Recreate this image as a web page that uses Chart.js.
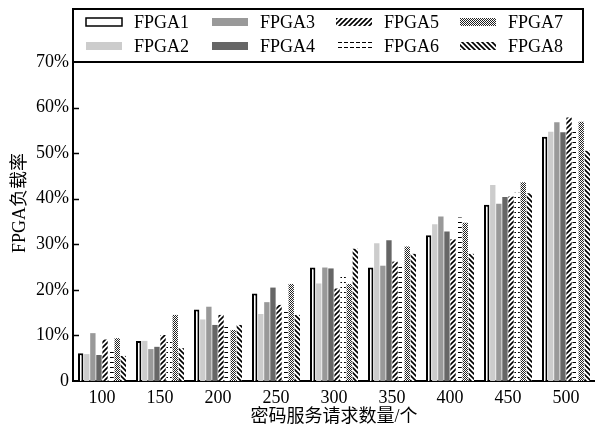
<!DOCTYPE html>
<html>
<head>
<meta charset="utf-8">
<script src="https://cdn.jsdelivr.net/npm/chart.js@4"></script>
<style>
  body { margin: 0; background: #fff; }
  canvas { display: block; }
</style>
</head>
<body>
<canvas id="chart" width="595" height="430"></canvas>
<script>
const categories = ['100', '150', '200', '250', '300', '350', '400', '450', '500'];
const seriesNames = ['FPGA1', 'FPGA2', 'FPGA3', 'FPGA4', 'FPGA5', 'FPGA6', 'FPGA7', 'FPGA8'];
const fpga1 = [6.1, 8.8, 15.7, 19.2, 24.9, 24.9, 32.0, 38.7, 53.6];
const fpga2 = [5.9, 8.8, 13.5, 14.7, 21.4, 30.2, 34.4, 43.0, 54.7];
const fpga3 = [10.5, 7.0, 16.3, 17.3, 24.9, 25.3, 36.1, 38.9, 56.8];
const fpga4 = [5.7, 7.5, 12.3, 20.5, 24.7, 30.9, 32.8, 40.4, 54.6];
const fpga5 = [9.1, 10.1, 14.5, 16.7, 20.3, 26.2, 31.1, 40.5, 57.8];
const fpga6 = [6.5, 9.0, 12.7, 15.9, 22.9, 25.2, 35.9, 41.3, 54.7];
const fpga7 = [9.4, 14.5, 11.2, 21.3, 21.3, 29.5, 34.7, 43.6, 56.9];
const fpga8 = [5.5, 7.2, 12.3, 14.5, 29.0, 27.9, 27.9, 41.2, 50.5];
const yTickLabels = ['0', '10%', '20%', '30%', '40%', '50%', '60%', '70%'];

const serif = '"Liberation Serif", "Times New Roman", "Noto Sans CJK SC", serif';

// small canvas tiles used as bar fills
function tile(w, h, paint) {
    const c = document.createElement('canvas');
    c.width = w; c.height = h;
    const g = c.getContext('2d');
    g.fillStyle = '#fff';
    g.fillRect(0, 0, w, h);
    paint(g);
    return c.getContext('2d').createPattern(c, 'repeat');
}

const fwdHatch = tile(5, 5, g => {
    g.strokeStyle = '#000'; g.lineWidth = 1.6;
    g.beginPath();
    g.moveTo(-1, 6); g.lineTo(6, -1);
    g.moveTo(-2, 2); g.lineTo(2, -2);
    g.moveTo(3, 7); g.lineTo(7, 3);
    g.stroke();
});
const backHatch = tile(5, 5, g => {
    g.strokeStyle = '#000'; g.lineWidth = 1.6;
    g.beginPath();
    g.moveTo(-1, -1); g.lineTo(6, 6);
    g.moveTo(3, -2); g.lineTo(7, 2);
    g.moveTo(-2, 3); g.lineTo(2, 7);
    g.stroke();
});
const dashes = tile(6, 5, g => {
    g.strokeStyle = '#000'; g.lineWidth = 1;
    g.beginPath();
    g.moveTo(2, 2.5); g.lineTo(6, 2.5);
    g.stroke();
});
const checker = tile(2, 2, g => {
    g.fillStyle = '#222';
    g.fillRect(0, 0, 1, 1);
    g.fillRect(1, 1, 1, 1);
});

const fills = ['#ffffff', '#cccccc', '#999999', '#666666', fwdHatch, dashes, checker, backHatch];
const values = [fpga1, fpga2, fpga3, fpga4, fpga5, fpga6, fpga7, fpga8];

const datasets = seriesNames.map((name, i) => ({
    label: name,
    data: values[i],
    backgroundColor: fills[i],
    borderColor: '#000',
    borderWidth: i === 0 ? 2 : 0,
    categoryPercentage: 0.84,
    barPercentage: 0.88
}));

// legend frame, inner y ticks and rotated y title
const decorations = {
    id: 'decorations',
    afterDraw(chart) {
        const ctx = chart.ctx;
        const area = chart.chartArea;
        const y = chart.scales.y;
        ctx.save();

        ctx.strokeStyle = '#000';
        ctx.lineWidth = 1.5;
        ctx.beginPath();
        for (let v = 10; v < 70; v += 10) {
            const py = Math.round(y.getPixelForValue(v)) + 0.5;
            ctx.moveTo(area.left, py);
            ctx.lineTo(area.left + 6, py);
        }
        ctx.stroke();

        ctx.lineWidth = 2;
        ctx.strokeRect(area.left, 9, 583 - area.left, area.top - 9);

        const colX = [86, 212, 336, 460];
        const rowY = [22, 46];
        ctx.font = '18px ' + serif;
        ctx.textBaseline = 'middle';
        ctx.fillStyle = '#000';
        seriesNames.forEach((name, i) => {
            const bx = colX[Math.floor(i / 2)];
            const by = rowY[i % 2];
            ctx.fillStyle = fills[i];
            ctx.fillRect(bx, by - 4, 36, 8);
            if (i === 0) {
                ctx.lineWidth = 1.5;
                ctx.strokeRect(bx, by - 4, 36, 8);
            }
            ctx.fillStyle = '#000';
            ctx.fillText(name, bx + 48, by + 1);
        });

        ctx.translate(20, 203);
        ctx.rotate(-Math.PI / 2);
        ctx.textAlign = 'center';
        ctx.fillText('FPGA负载率', 0, 0);
        ctx.restore();
    }
};

new Chart(document.getElementById('chart'), {
    type: 'bar',
    data: { labels: categories, datasets: datasets },
    options: {
        responsive: false,
        animation: false,
        layout: { padding: { top: 62, right: 0, left: 0, bottom: 0 } },
        plugins: {
            legend: { display: false },
            tooltip: { enabled: false }
        },
        scales: {
            x: {
                grid: { display: false, drawTicks: false },
                border: { display: true, color: '#000', width: 2 },
                ticks: { color: '#000', font: { family: serif, size: 18 }, padding: 6, maxRotation: 0 },
                title: {
                    display: true,
                    text: '密码服务请求数量/个',
                    color: '#000',
                    font: { family: serif, size: 18 },
                    padding: { top: 0, bottom: 2 }
                },
                afterFit(scale) { scale.height = 49; }
            },
            y: {
                min: 0,
                max: 70,
                grid: { display: false, drawTicks: false },
                border: { display: true, color: '#000', width: 2 },
                ticks: {
                    stepSize: 10,
                    color: '#000',
                    padding: 4,
                    font: { family: serif, size: 18 },
                    callback: (v) => yTickLabels[v / 10]
                },
                afterFit(scale) { scale.width = 73; }
            }
        }
    },
    plugins: [decorations]
});
</script>
</body>
</html>
